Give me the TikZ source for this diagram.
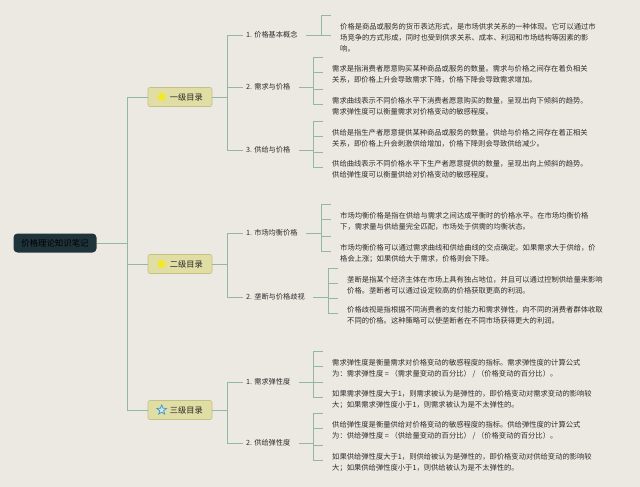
\documentclass[tikz,border=0pt]{standalone}
\usepackage{fontspec}
\setmainfont{Noto Sans CJK SC}
\usetikzlibrary{calc,shapes.geometric}

\definecolor{bgcol}{RGB}{236,233,226}
\definecolor{linecol}{RGB}{146,184,163}
\definecolor{rootfill}{RGB}{31,51,59}
\definecolor{catfill}{RGB}{224,221,165}
\definecolor{catdraw}{RGB}{196,193,135}
\definecolor{txtcol}{RGB}{45,45,45}
\definecolor{bulbcol}{RGB}{243,232,40}
\definecolor{starcol}{RGB}{52,150,205}

\tikzset{
  conn/.style={draw=linecol, line width=0.9pt},
  rootbox/.style={rectangle, rounded corners=4pt, fill=rootfill, minimum width=83pt, minimum height=19pt, inner sep=0pt, text=black, font=\fontsize{8.4}{10}\selectfont},
  catbox/.style={rectangle, rounded corners=2pt, fill=catfill, draw=catdraw, line width=0.6pt, minimum width=64pt, minimum height=19pt, inner sep=0pt},
  cattext/.style={anchor=west, inner sep=0pt, text=black!85, font=\fontsize{8.2}{10}\selectfont},
  bulb/.style={circle, fill=bulbcol, minimum size=8pt, inner sep=0pt},
  staricon/.style={star, star points=5, star point ratio=2.3, draw=starcol, fill=starcol!25, line width=0.7pt, minimum size=10pt, inner sep=0pt},
  sublab/.style={anchor=west, inner sep=0pt, text=txtcol, font=\fontsize{7.2}{9}\selectfont},
  para/.style={anchor=north west, inner sep=0pt, align=left, text=txtcol, font=\fontsize{7.3}{11}\selectfont},
}

\begin{document}
\begin{tikzpicture}[x=1pt, y=-1pt]
\fill[bgcol] (0,0) rectangle (640,487);
\useasboundingbox (0,0) rectangle (640,487);

% root and first level
\node[rootbox] (root) at (55,243) {价格理论知识笔记};

\node[catbox] (cat1) at (180,97) {};
\node[catbox] (cat2) at (180,264) {};
\node[catbox] (cat3) at (180,410) {};
\node[bulb] (ic1) at ([xshift=14pt]cat1.west) {};
\node[bulb] (ic2) at ([xshift=14pt]cat2.west) {};
\node[staricon] (ic3) at ([xshift=14pt]cat3.west) {};
\node[cattext] (ct1) at ([xshift=22pt]cat1.west) {一级目录};
\node[cattext] (ct2) at ([xshift=22pt]cat2.west) {二级目录};
\node[cattext] (ct3) at ([xshift=22pt]cat3.west) {三级目录};

% second level
\node[sublab] (t11) at (246,35) {1. 价格基本概念};
\node[sublab] (t12) at (246,87) {2. 需求与价格};
\node[sublab] (t13) at (246,150) {3. 供给与价格};
\node[sublab] (t21) at (246,233) {1. 市场均衡价格};
\node[sublab] (t22) at (246,297) {2. 垄断与价格歧视};
\node[sublab] (t31) at (246,382) {1. 需求弹性度};
\node[sublab] (t32) at (246,443) {2. 供给弹性度};

% text blocks
\node[para] (x11) at (340,23) {价格是商品或服务的货币表达形式，是市场供求关系的一种体现。它可以通过市\\场竞争的方式形成，同时也受到供求关系、成本、利润和市场结构等因素的影\\响。};
\node[para] (x12a) at (332,65) {需求是指消费者愿意购买某种商品或服务的数量。需求与价格之间存在着负相关\\关系，即价格上升会导致需求下降，价格下降会导致需求增加。};
\node[para] (x12b) at (332,97) {需求曲线表示不同价格水平下消费者愿意购买的数量，呈现出向下倾斜的趋势。\\需求弹性度可以衡量需求对价格变动的敏感程度。};
\node[para] (x13a) at (332,129) {供给是指生产者愿意提供某种商品或服务的数量。供给与价格之间存在着正相关\\关系，即价格上升会刺激供给增加，价格下降则会导致供给减少。};
\node[para] (x13b) at (332,160) {供给曲线表示不同价格水平下生产者愿意提供的数量，呈现出向上倾斜的趋势。\\供给弹性度可以衡量供给对价格变动的敏感程度。};
\node[para] (x21a) at (340,212) {市场均衡价格是指在供给与需求之间达成平衡时的价格水平。在市场均衡价格\\下，需求量与供给量完全匹配，市场处于供需的均衡状态。};
\node[para] (x21b) at (340,244) {市场均衡价格可以通过需求曲线和供给曲线的交点确定。如果需求大于供给，价\\格会上涨；如果供给大于需求，价格则会下降。};
\node[para] (x22a) at (347,276) {垄断是指某个经济主体在市场上具有独占地位，并且可以通过控制供给量来影响\\价格。垄断者可以通过设定较高的价格获取更高的利润。};
\node[para] (x22b) at (347,306) {价格歧视是指根据不同消费者的支付能力和需求弹性，向不同的消费者群体收取\\不同的价格。这种策略可以使垄断者在不同市场获得更大的利润。};
\node[para] (x31a) at (332,359) {需求弹性度是衡量需求对价格变动的敏感程度的指标。需求弹性度的计算公式\\为：需求弹性度 = （需求量变动的百分比） / （价格变动的百分比）。};
\node[para] (x31b) at (332,390) {如果需求弹性度大于1，则需求被认为是弹性的，即价格变动对需求变动的影响较\\大；如果需求弹性度小于1，则需求被认为是不太弹性的。};
\node[para] (x32a) at (332,421) {供给弹性度是衡量供给对价格变动的敏感程度的指标。供给弹性度的计算公式\\为：供给弹性度 = （供给量变动的百分比） / （价格变动的百分比）。};
\node[para] (x32b) at (332,453) {如果供给弹性度大于1，则供给被认为是弹性的，即价格变动对供给变动的影响较\\大；如果供给弹性度小于1，则供给被认为是不太弹性的。};

% trunk
\draw[conn] (root.east) -- ++(31,0) coordinate (j0);
\foreach \c in {cat1,cat2,cat3}
  \draw[conn] (\c.west) -| (j0);

% first level to labels
\draw[conn] (cat1.east) -- ++(15,0) coordinate (j1);
\draw[conn] (cat2.east) -- ++(15,0) coordinate (j2);
\draw[conn] (cat3.east) -- ++(15,0) coordinate (j3);
\foreach \lab/\j in {t11/j1, t12/j1, t13/j1, t21/j2, t22/j2, t31/j3, t32/j3}
  \draw[conn] ([xshift=-3pt]\lab.west) -| (\j);

% ticks in front of every text block
\foreach \p in {x11,x12a,x12b,x13a,x13b,x21a,x21b,x22a,x22b,x31a,x31b,x32a,x32b}{
  \draw[conn] ([shift={(-19pt,8pt)}]\p.north west) -- ([shift={(-9pt,8pt)}]\p.north west);
  \draw[conn] ([shift={(-19pt,2pt)}]\p.west) -- ([shift={(-9pt,2pt)}]\p.west);
}

% brackets and label connectors
\foreach \lab/\first/\last in {t11/x11/x11, t12/x12a/x12b, t13/x13a/x13b, t21/x21a/x21b, t22/x22a/x22b, t31/x31a/x31b, t32/x32a/x32b}{
  \coordinate (b\lab) at ([xshift=-19pt]\first.west);
  \draw[conn] ([shift={(-19pt,8pt)}]\first.north west) -- ([shift={(-19pt,2pt)}]\last.west);
  \draw[conn] ([xshift=8pt]\lab.east) -- (\lab.east -| b\lab);
}
\end{tikzpicture}
\end{document}
